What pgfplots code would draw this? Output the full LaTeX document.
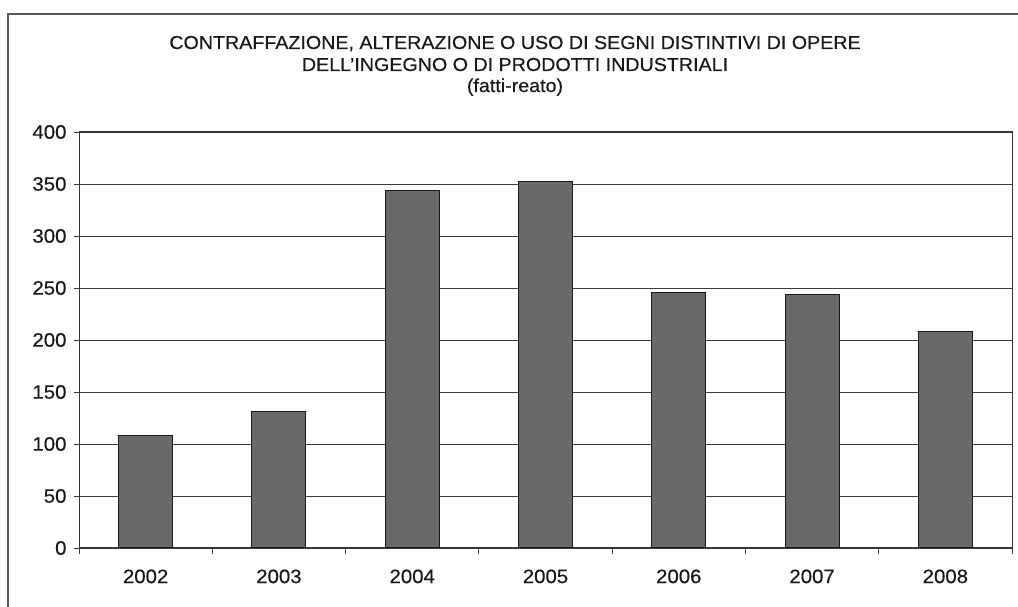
\documentclass[border=0pt]{standalone}
\usepackage{fontspec}
\setmainfont[FakeStretch=1.05, FakeBold=0.4]{Liberation Sans}
\usepackage{pgfplots}
\pgfplotsset{compat=1.18}
\definecolor{barfill}{RGB}{105,105,105}
\definecolor{gridc}{RGB}{60,60,60}
\begin{document}
\begin{tikzpicture}[x=1bp,y=1bp]
\path[use as bounding box] (0,0) rectangle (1018,607);
\draw[line width=1.6bp, black!65] (8,-5) -- (8,593) -- (1030,593);
\node[anchor=base, font=\fontsize{18.8}{22}\selectfont, text=black!90] at (515,558) {CONTRAFFAZIONE, ALTERAZIONE O USO DI SEGNI DISTINTIVI DI OPERE};
\node[anchor=base, font=\fontsize{18.8}{22}\selectfont, text=black!90] at (515,536) {DELL'INGEGNO O DI PRODOTTI INDUSTRIALI};
\node[anchor=base, font=\fontsize{18.8}{22}\selectfont, text=black!90] at (515,515) {(fatti-reato)};
\begin{axis}[
  at={(79bp,59bp)}, anchor=south west,
  width=933bp, height=416bp, scale only axis,
  ymin=0, ymax=400, xmin=-0.5, xmax=6.5,
  ytick={0,50,...,400},
  xtick={0,...,6},
  xticklabels={2002,2003,2004,2005,2006,2007,2008},
  minor xtick={-0.5,0.5,...,6.5},
  xtick pos=bottom, ytick pos=left,
  tick align=outside,
  major x tick style={draw=none},
  minor tick length=6bp,
  major tick length=5bp,
  tick style={gridc, line width=0.9bp},
  ymajorgrids,
  grid style={gridc, line width=0.9bp},
  axis line style={black!80, line width=1bp},
  /pgf/number format/assume math mode=true,
  ticklabel style={font=\fontsize{19.5}{22}\selectfont, text=black!90},
  yticklabel style={xshift=-4bp},
  xticklabel style={yshift=-13bp},
  ybar, bar width=54bp,
]
\addplot[fill=barfill, draw=black!90, line width=1.1bp] coordinates {
  (0,108) (1,131) (2,344) (3,352) (4,246) (5,244) (6,208)
};
\end{axis}
\end{tikzpicture}
\end{document}
